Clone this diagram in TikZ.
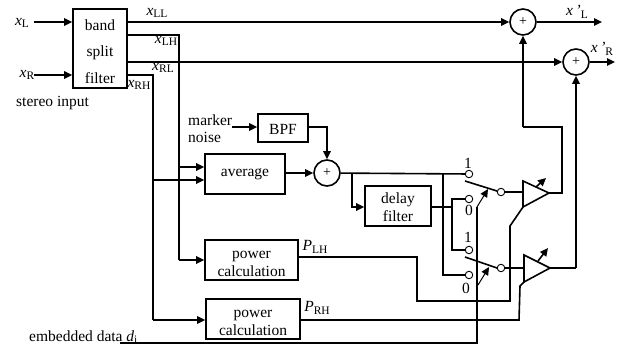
\documentclass[tikz,border=0pt]{standalone}
\usepackage{fontspec}
\setmainfont{Liberation Serif}
\usetikzlibrary{arrows.meta}
\tikzset{
  wire/.style={line width=1.6pt},
  flow/.style={wire, -{Triangle[length=8pt,width=7.5pt]}},
  blockbox/.style={draw, line width=1.6pt, align=center, inner sep=0pt, font=\fontsize{15.5}{18.5}\selectfont},
  sumnode/.style={draw, circle, line width=1.6pt, minimum size=26pt, inner sep=0pt, font=\fontsize{14}{14}\selectfont},
  contact/.style={draw, circle, line width=0.9pt, fill=white, minimum size=7.5pt, inner sep=0pt},
  amp/.style={line width=1.6pt, line join=miter},
  lab/.style={inner sep=0pt, font=\fontsize{15.5}{18}\selectfont, align=left},
  sublab/.style={inner sep=0pt, font=\fontsize{15.5}{18}\selectfont}
}
\newcommand{\sig}[2]{\textit{#1}\raisebox{-2.5pt}{\fontsize{11.5}{12}\selectfont #2}}
\newcommand{\lift}[1]{\rule{0pt}{#1pt}}
\begin{document}
\begin{tikzpicture}[x=1pt, y=-1pt, >=stealth]
  \useasboundingbox (0,0) rectangle (620,345);

  % blocks
  \node[blockbox, minimum width=54pt, minimum height=79pt] (filter) at (100,48.5) {\lift{17}band\\[8pt]split\\[8pt]filter};
  \node[blockbox, minimum width=50pt, minimum height=28pt] (bpf) at (283,128) {\lift{14}BPF};
  \node[blockbox, minimum width=80pt, minimum height=40pt] (average) at (245,174) {average};
  \node[blockbox, minimum width=66pt, minimum height=40pt] (delay) at (398,206) {\lift{13}delay\\filter};
  \node[blockbox, minimum width=93pt, minimum height=40pt] (powerL) at (251.5,260) {\lift{15}power\\calculation};
  \node[blockbox, minimum width=94pt, minimum height=40pt] (powerR) at (253,319) {\lift{15}power\\calculation};

  \node[sumnode] (sumL) at (523,22) {+};
  \node[sumnode] (sumR) at (576,62) {+};
  \node[sumnode] (sumM) at (327,173) {+};

  \node[contact] (a1) at (469,174) {};
  \node[contact] (a0) at (469,199) {};
  \node[contact] (aout) at (501,192) {};
  \node[contact] (b1) at (469,250) {};
  \node[contact] (b0) at (469,275) {};
  \node[contact] (bout) at (501,268) {};

  % free ends
  \coordinate (inL) at (34,22);
  \coordinate (inR) at (34,75);
  \coordinate (noise) at (232,127);
  \coordinate (outL) at (602,22);
  \coordinate (outR) at (615,62);
  \coordinate (data) at (120,343);

  % amplifiers
  \coordinate (ampAin) at (523,192);
  \coordinate (ampAout) at (549,193);
  \coordinate (ampBin) at (524,268);
  \coordinate (ampBout) at (550,268);
  \draw[amp] (523,181) -- (ampAout) -- (523,207) -- cycle;
  \draw[amp] (524,255) -- (ampBout) -- (524,282) -- cycle;
  \draw[flow] (536,187) -- (546,178);
  \draw[flow] (538,261) -- (548,248);

  % filter
  \draw[flow] (inL) -- (filter.west |- inL);
  \draw[flow] (inR) -- (filter.west |- inR);
  \draw[flow] (filter.east |- inL) -- (sumL);
  \draw[flow] (filter.east |- sumR) -- (sumR);
  \draw[wire] (filter.east |- 0,35) -- (179,35) -- (179,260);
  \draw[wire] (filter.east |- inR) -- (153,75) -- (153,320);
  \draw[flow] (179,167) -- (average.west |- 0,167);
  \draw[flow] (153,180) -- (average.west |- 0,180);
  \draw[flow] (179,260) -- (powerL);
  \draw[flow] (153,320) -- (powerR.west |- 0,320);

  % marker noise
  \draw[flow] (noise) -- (bpf.west |- noise);
  \draw[flow] (bpf.east |- noise) -- (327,127) -- (sumM);
  \draw[flow] (average.east |- sumM) -- (sumM);

  % switches
  \draw[wire] (sumM) -- (a1);
  \draw[wire] (443,174) -- (443,275) -- (b0);
  \draw[flow] (352,174) -- (352,207) -- (delay.west |- 0,207);
  \draw[wire] (delay.east |- 0,207) -- (452,207);
  \draw[wire] (a0) -- (452,199) -- (452,250) -- (b1);
  \draw[wire] (465,181) -- (497,191);
  \draw[wire] (465,257) -- (497,268);
  \draw[wire] (data) -- (477,343) -- (477,207);
  \draw[flow, line width=1pt] (477,207) -- (488,189);
  \draw[flow, line width=1pt] (478,285) -- (489,267);
  \draw[wire] (aout) -- (ampAin);
  \draw[wire] (bout) -- (ampBin);

  % outputs
  \draw[flow] (sumL) -- (outL);
  \draw[flow] (sumR) -- (outR);
  \draw[wire] (ampAout) -- (562,193) -- (562,127) -- (523,127);
  \draw[flow] (523,127) -- (sumL);
  \draw[wire] (ampBout) -- (576,268);
  \draw[flow] (576,268) -- (sumR);

  % gain control
  \draw[wire] (powerL.east |- 0,257) -- (417,257) -- (417,301) -- (510,301) -- (510,226) -- (523,207);
  \draw[wire] (powerR.east |- 0,320) -- (519,320) -- (520,286) -- (524,282);

  % labels
  \node[sublab] (lxL) at (22,23) {\sig{x}{L}};
  \node[sublab] (lxR) at (27,75) {\sig{x}{R}};
  \node[sublab] (lxLL) at (157,13) {\sig{x}{LL}};
  \node[sublab] (lxLH) at (166,41) {\sig{x}{LH}};
  \node[sublab] (lxRL) at (163,68) {\sig{x}{RL}};
  \node[sublab] (lxRH) at (139,85) {\sig{x}{RH}};
  \node[lab, anchor=west] (stereo) at (16,103) {stereo input};
  \node[lab, anchor=west] (marker) at (188,120) {marker};
  \node[lab, anchor=west] (mnoise) at (188,137) {noise};
  \node[sublab] (lPL) at (315,247) {\sig{P}{LH}};
  \node[sublab] (lPR) at (317,308) {\sig{P}{RH}};
  \node[sublab] (lout1) at (577,12) {\sig{x\,'}{L}};
  \node[sublab] (lout2) at (602,49) {\sig{x\,'}{R}};
  \node[lab, anchor=west] (ldata) at (29,337) {embedded data \sig{d}{i}};
  \node[lab] (n1a) at (468,163) {1};
  \node[lab] (n0a) at (469,210) {0};
  \node[lab] (n1b) at (468,237) {1};
  \node[lab] (n0b) at (466,288) {0};
\end{tikzpicture}
\end{document}
